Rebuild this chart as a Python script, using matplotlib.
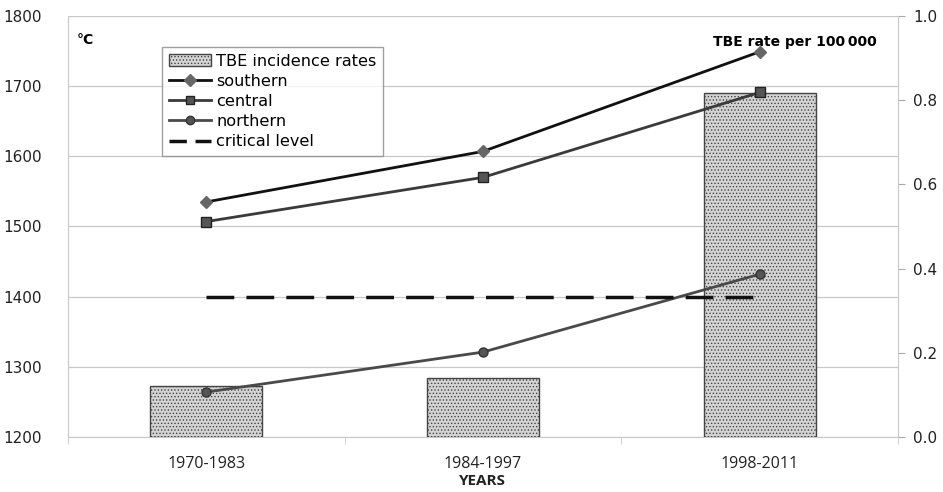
import numpy as np
import matplotlib
matplotlib.use('Agg')
import matplotlib.pyplot as plt
from matplotlib.lines import Line2D
from matplotlib.patches import Patch

# donnees
periods = ['1970-1983', '1984-1997', '1998-2011']
tbe_rate = [0.121, 0.140, 0.817]
southern = [1535, 1607, 1749]
central = [1507, 1570, 1691]
northern = [1264, 1321, 1432]
critical = [1400, 1400, 1400]

x = np.arange(len(periods))

plt.rcParams['hatch.color'] = '#9a9a9a'
plt.rcParams['hatch.linewidth'] = 0.6

fig = plt.figure(figsize=(9.43, 4.92), dpi=100)
ax = fig.add_axes([0.0721, 0.1118, 0.8801, 0.8557])

# axe gauche: grille + graduations
ax.set_xlim(-0.5, 2.5)
ax.set_ylim(1200, 1800)
ax.set_yticks(np.arange(1200, 1801, 100))
ax.yaxis.grid(True, color='#c8c8c8', linewidth=0.9)
ax.set_xticks(x)
ax.set_xticklabels(periods, fontsize=11.5, family='Open Sans', color='#222222')
ax.set_xticks([-0.5, 0.5, 1.5, 2.5], minor=True)
ax.tick_params(axis='x', which='major', length=0, pad=14)
ax.tick_params(axis='x', which='minor', length=5, color='#c8c8c8', direction='out')
ax.tick_params(axis='y', length=0, labelsize=11, pad=19, colors='#222222')
for s in ['top', 'right']:
    ax.spines[s].set_visible(False)
for s in ['left', 'bottom']:
    ax.spines[s].set_color('#c8c8c8')
ax.set_xlabel('YEARS', fontsize=11, fontweight='bold', family='Open Sans', labelpad=1, color='#222222')

# axe droit: barres
ax2 = ax.twinx()
ax2.bar(x, tbe_rate, width=0.405, color='#d4d4d4', edgecolor='#444444', linewidth=1,
        hatch='.....', zorder=2)
ax2.set_ylim(0, 1.0)
ax2.set_yticks(np.arange(0, 1.01, 0.2))
ax2.set_yticklabels(['0.0', '0.2', '0.4', '0.6', '0.8', '1.0'])
ax2.tick_params(axis='y', length=5, color='#aaaaaa', labelsize=11, pad=6, colors='#222222')
ax2.tick_params(axis='y', which='both', color='#aaaaaa')
for s in ['top', 'left', 'bottom']:
    ax2.spines[s].set_visible(False)
ax2.spines['right'].set_color('#c8c8c8')

# courbes
ax3 = ax.twinx()
ax3.set_ylim(1200, 1800)
ax3.set_yticks([])
for s in ax3.spines.values():
    s.set_visible(False)
ax3.plot(x, southern, color='#111111', linewidth=2, marker='D', markersize=6.5,
         markerfacecolor='#666666', markeredgecolor='#666666')
ax3.plot(x, central, color='#3a3a3a', linewidth=2, marker='s', markersize=6.5,
         markerfacecolor='#555555', markeredgecolor='#222222')
ax3.plot(x, northern, color='#4a4a4a', linewidth=2, marker='o', markersize=6.5,
         markerfacecolor='#555555', markeredgecolor='#333333')
ax3.plot(x, critical, color='#111111', linewidth=2.5, linestyle=(0, (8, 3.5)))

ax3.text(0.01, 0.96, '°C', transform=ax3.transAxes, fontsize=10, fontweight='bold',
         va='top', ha='left')
ax3.text(0.975, 0.955, 'TBE rate per 100\u2009000', transform=ax3.transAxes, fontsize=10,
         fontweight='bold', va='top', ha='right')

handles = [
    Patch(facecolor='#d4d4d4', edgecolor='#444444', hatch='.....'),
    Line2D([], [], color='#111111', linewidth=2, marker='D', markersize=6,
           markerfacecolor='#666666', markeredgecolor='#666666'),
    Line2D([], [], color='#3a3a3a', linewidth=2, marker='s', markersize=6,
           markerfacecolor='#555555', markeredgecolor='#222222'),
    Line2D([], [], color='#4a4a4a', linewidth=2, marker='o', markersize=6,
           markerfacecolor='#555555', markeredgecolor='#333333'),
    Line2D([], [], color='#111111', linewidth=2.5, linestyle=(0, (5, 2.5))),
]
labels = ['TBE incidence rates', 'southern', 'central', 'northern', 'critical level']
leg = ax3.legend(handles, labels, loc='upper left', bbox_to_anchor=(0.104, 0.945),
                 fontsize=11.6, frameon=True, fancybox=False, handlelength=2.6,
                 handletextpad=0.35, labelspacing=0.32, borderpad=0.4)
leg.get_frame().set_edgecolor('#888888')
leg.get_frame().set_linewidth(1)

plt.savefig('out.png', dpi=100)
